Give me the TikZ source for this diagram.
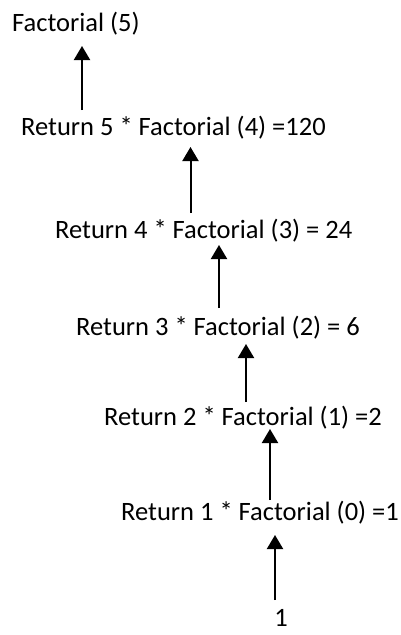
\documentclass[tikz,border=0pt]{standalone}
\usepackage{fontspec}
\setmainfont{Carlito}
\usetikzlibrary{arrows.meta}
\begin{document}
\begin{tikzpicture}[
  lbl/.style={inner sep=0pt, anchor=base west, font=\fontsize{26.5}{30}\selectfont},
  arr/.style={line width=2pt, -{Triangle[width=16pt,length=14pt]}}
]
\useasboundingbox (0pt,0pt) rectangle (401pt,-635pt);
\node[lbl] (r0) at (12pt,-31pt) {Factorial (5)};
\node[lbl] (r1) at (21pt,-135pt) {Return 5 * Factorial (4) =120};
\node[lbl] (r2) at (55pt,-238pt) {Return 4 * Factorial (3) = 24};
\node[lbl] (r3) at (76pt,-335pt) {Return 3 * Factorial (2) = 6};
\node[lbl] (r4) at (104pt,-425pt) {Return 2 * Factorial (1) =2};
\node[lbl] (r5) at (121pt,-520pt) {Return 1 * Factorial (0) =1};
\node[lbl, anchor=base] (one) at (281pt,-626pt) {1};
\draw[arr] ([shift={(61pt,25pt)}]r1.base west) -- ([shift={(70pt,-15pt)}]r0.base west);
\draw[arr] ([shift={(135.5pt,25pt)}]r2.base west) -- ([shift={(169.5pt,-12pt)}]r1.base west);
\draw[arr] ([shift={(143pt,27pt)}]r3.base west) -- ([shift={(164pt,-7pt)}]r2.base west);
\draw[arr] ([shift={(142pt,23pt)}]r4.base west) -- ([shift={(170pt,-9pt)}]r3.base west);
\draw[arr] ([shift={(149pt,20pt)}]r5.base west) -- ([shift={(166pt,-4pt)}]r4.base west);
\draw[arr] ([shift={(-6pt,26pt)}]one.base) -- ([shift={(154pt,-15pt)}]r5.base west);
\end{tikzpicture}
\end{document}
